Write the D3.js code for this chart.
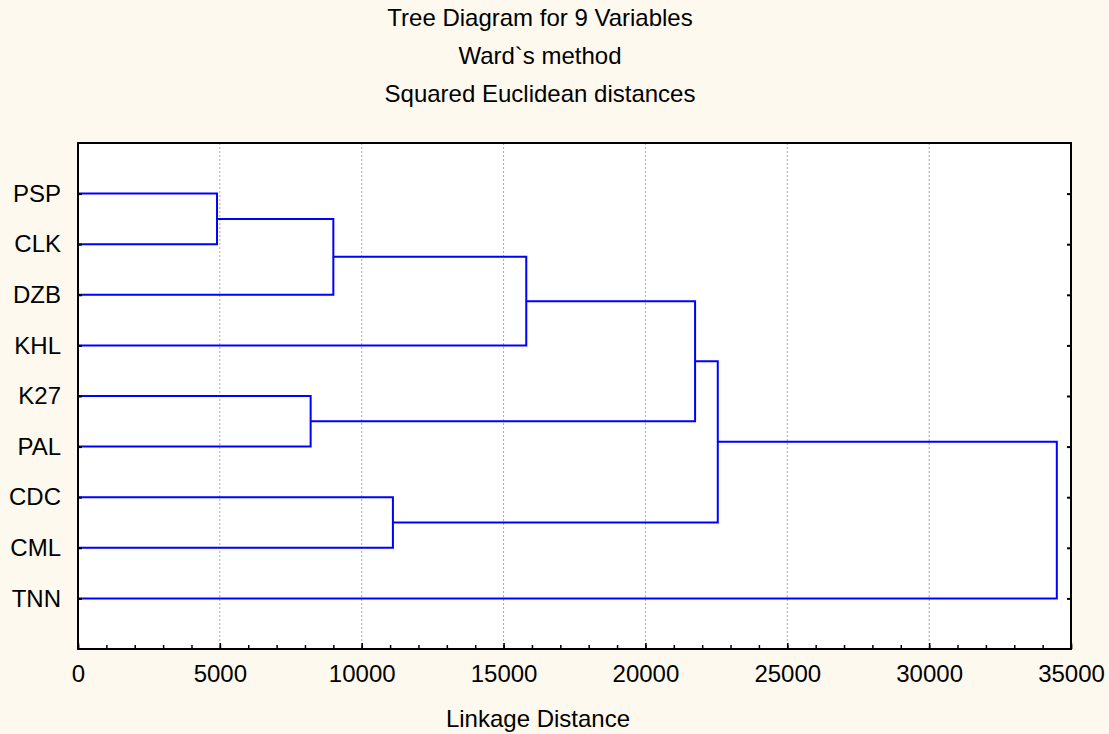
<!DOCTYPE html>
<html>
<head>
<meta charset="utf-8">
<script src="https://cdn.jsdelivr.net/npm/d3@7"></script>
<style>
  body { margin: 0; background: #fdf9ee; }
  text { font-family: "Liberation Sans", Arial, sans-serif; fill: #000; }
</style>
</head>
<body>
<div id="chart"></div>
<script>

// leaves, top to bottom
var leaves = ["PSP", "CLK", "DZB", "KHL", "K27", "PAL", "CDC", "CML", "TNN"];

// merge k creates node 9+k out of mergeLeft[k] and mergeRight[k]
var mergeLeft = [0, 9, 10, 4, 11, 6, 13, 15];
var mergeRight = [1, 2, 3, 5, 12, 7, 14, 8];
var mergeDistance = [4900, 9000, 15800, 8200, 21750, 11100, 22550, 34500];

var xTickLabels = [0, 5000, 10000, 15000, 20000, 25000, 30000, 35000];

var titleLines = ["Tree Diagram for 9 Variables", "Ward`s method", "Squared Euclidean distances"];

// set the dimensions and margins of the graph
var W = 1109, H = 734;
var margin = { top: 143, right: 38, bottom: 85, left: 78 },
    width = W - margin.left - margin.right,
    height = H - margin.top - margin.bottom;

var root = d3.select("#chart")
    .append("svg")
    .attr("width", W)
    .attr("height", H);

root.append("rect")
    .attr("width", W).attr("height", H)
    .attr("fill", "#fdf9ee");

var svg = root.append("g")
    .attr("transform", "translate(" + margin.left + "," + margin.top + ")");

svg.append("rect")
    .attr("width", width).attr("height", height)
    .attr("fill", "#fff");

var x = d3.scaleLinear()
    .domain([0, 35000])
    .range([0, width]);

var y = d3.scaleLinear()
    .domain([0, leaves.length + 1])
    .range([0, height]);

// dotted grid
svg.append("g")
    .selectAll("line")
    .data(xTickLabels.slice(1, -1))
    .enter()
    .append("line")
    .attr("x1", function(d) { return x(d); })
    .attr("x2", function(d) { return x(d); })
    .attr("y1", 0)
    .attr("y2", height)
    .attr("stroke", "#aaaaaa")
    .attr("stroke-width", 1)
    .attr("stroke-dasharray", "2,2");

// node positions
var nodeX = [], nodeY = [];
leaves.forEach(function(d, i) {
    nodeX[i] = x(0);
    nodeY[i] = y(i + 1);
});
mergeDistance.forEach(function(d, k) {
    var id = leaves.length + k;
    nodeX[id] = x(d);
    nodeY[id] = (nodeY[mergeLeft[k]] + nodeY[mergeRight[k]]) / 2;
});

// one bracket per merge
svg.append("g")
    .selectAll("path")
    .data(mergeDistance)
    .enter()
    .append("path")
    .attr("d", function(d, k) {
        var a = mergeLeft[k], b = mergeRight[k], xm = x(d);
        var p = d3.path();
        p.moveTo(nodeX[a], nodeY[a]);
        p.lineTo(xm, nodeY[a]);
        p.lineTo(xm, nodeY[b]);
        p.lineTo(nodeX[b], nodeY[b]);
        return p.toString();
    })
    .attr("fill", "none")
    .attr("stroke", "#0000ff")
    .attr("stroke-width", 2);

// X axis, minor ticks
svg.append("g")
    .attr("transform", "translate(0," + height + ")")
    .call(d3.axisBottom(x).tickValues(d3.range(0, 35001, 1000)).tickSize(-4).tickFormat(""))
    .call(function(g) { g.select(".domain").remove(); })
    .selectAll("line").attr("stroke", "#000").attr("stroke-width", 1.5);

// X axis, major ticks and labels
var xAxis = svg.append("g")
    .attr("transform", "translate(0," + height + ")")
    .call(d3.axisBottom(x).tickValues(xTickLabels).tickSize(-6).tickPadding(16).tickFormat(d3.format("d")));
xAxis.select(".domain").remove();
xAxis.selectAll("line").attr("stroke", "#000").attr("stroke-width", 1.5);
xAxis.selectAll("text").style("font-size", "24px").style("font-family", "Liberation Sans, Arial, sans-serif");

// Y axis with leaf labels
var yAxis = svg.append("g")
    .call(d3.axisLeft(y).tickValues(d3.range(1, leaves.length + 1)).tickSize(-4).tickPadding(17)
        .tickFormat(function(d) { return leaves[d - 1]; }));
yAxis.select(".domain").remove();
yAxis.selectAll("line").attr("stroke", "#000").attr("stroke-width", 2);
yAxis.selectAll("text").style("font-size", "24px").style("font-family", "Liberation Sans, Arial, sans-serif");

// right side ticks
var yRight = svg.append("g")
    .attr("transform", "translate(" + width + ",0)")
    .call(d3.axisRight(y).tickValues(d3.range(1, leaves.length + 1)).tickSize(-4).tickFormat(""));
yRight.select(".domain").remove();
yRight.selectAll("line").attr("stroke", "#000").attr("stroke-width", 2);

// frame
svg.append("rect")
    .attr("width", width).attr("height", height)
    .attr("fill", "none")
    .attr("stroke", "#000")
    .attr("stroke-width", 2);

// titles
root.append("g")
    .selectAll("text")
    .data(titleLines)
    .enter()
    .append("text")
    .attr("x", 540)
    .attr("y", function(d, i) { return 26 + i * 38; })
    .attr("text-anchor", "middle")
    .style("font-size", "24px")
    .text(function(d) { return d; });

root.append("text")
    .attr("x", 538)
    .attr("y", 727)
    .attr("text-anchor", "middle")
    .style("font-size", "24px")
    .text("Linkage Distance");

</script>
</body>
</html>
